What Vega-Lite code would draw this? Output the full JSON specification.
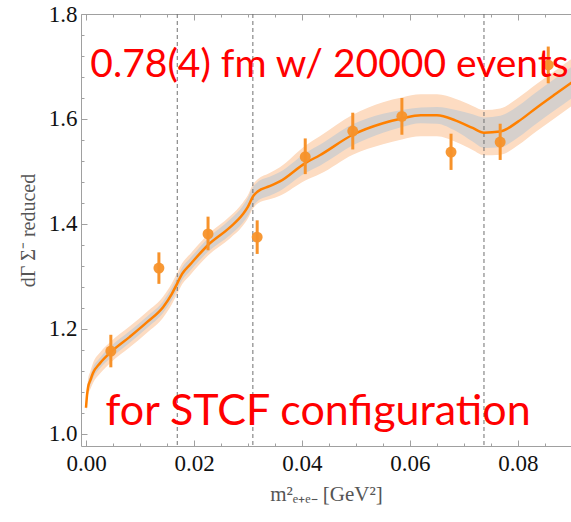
{
  "$schema": "https://vega.github.io/schema/vega-lite/v6.json",
  "autosize": {"type": "none"},
  "padding": {"left": 81, "top": 14, "right": 0, "bottom": 76},
  "width": 490,
  "height": 432,
  "background": "white",
  "view": {"stroke": null},
  "datasets": {
    "curve": [
      {"x": 0.0000, "y": 1.050, "glo": 1.046, "ghi": 1.054, "olo": 1.042, "ohi": 1.058},
      {"x": 0.0002, "y": 1.075, "glo": 1.069, "ghi": 1.081, "olo": 1.063, "ohi": 1.087},
      {"x": 0.0004, "y": 1.090, "glo": 1.082, "ghi": 1.098, "olo": 1.075, "ohi": 1.105},
      {"x": 0.0008, "y": 1.102, "glo": 1.093, "ghi": 1.111, "olo": 1.085, "ohi": 1.119},
      {"x": 0.0013, "y": 1.116, "glo": 1.106, "ghi": 1.126, "olo": 1.097, "ohi": 1.135},
      {"x": 0.0026, "y": 1.135, "glo": 1.125, "ghi": 1.145, "olo": 1.115, "ohi": 1.155},
      {"x": 0.0046, "y": 1.156, "glo": 1.145, "ghi": 1.167, "olo": 1.136, "ohi": 1.176},
      {"x": 0.0081, "y": 1.185, "glo": 1.174, "ghi": 1.196, "olo": 1.165, "ohi": 1.205},
      {"x": 0.0113, "y": 1.213, "glo": 1.202, "ghi": 1.224, "olo": 1.193, "ohi": 1.233},
      {"x": 0.0143, "y": 1.242, "glo": 1.231, "ghi": 1.253, "olo": 1.222, "ohi": 1.262},
      {"x": 0.0159, "y": 1.267, "glo": 1.255, "ghi": 1.279, "olo": 1.247, "ohi": 1.287},
      {"x": 0.0169, "y": 1.287, "glo": 1.275, "ghi": 1.299, "olo": 1.267, "ohi": 1.307},
      {"x": 0.0178, "y": 1.305, "glo": 1.293, "ghi": 1.317, "olo": 1.285, "ohi": 1.325},
      {"x": 0.0193, "y": 1.323, "glo": 1.311, "ghi": 1.335, "olo": 1.303, "ohi": 1.343},
      {"x": 0.0226, "y": 1.360, "glo": 1.347, "ghi": 1.373, "olo": 1.340, "ohi": 1.380},
      {"x": 0.0267, "y": 1.394, "glo": 1.379, "ghi": 1.409, "olo": 1.373, "ohi": 1.415},
      {"x": 0.0290, "y": 1.418, "glo": 1.402, "ghi": 1.434, "olo": 1.396, "ohi": 1.440},
      {"x": 0.0300, "y": 1.433, "glo": 1.416, "ghi": 1.450, "olo": 1.411, "ohi": 1.455},
      {"x": 0.0309, "y": 1.452, "glo": 1.434, "ghi": 1.470, "olo": 1.429, "ohi": 1.475},
      {"x": 0.0318, "y": 1.462, "glo": 1.444, "ghi": 1.480, "olo": 1.439, "ohi": 1.485},
      {"x": 0.0340, "y": 1.472, "glo": 1.454, "ghi": 1.490, "olo": 1.447, "ohi": 1.497},
      {"x": 0.0359, "y": 1.481, "glo": 1.463, "ghi": 1.499, "olo": 1.454, "ohi": 1.508},
      {"x": 0.0406, "y": 1.516, "glo": 1.497, "ghi": 1.535, "olo": 1.483, "ohi": 1.549},
      {"x": 0.0433, "y": 1.531, "glo": 1.511, "ghi": 1.551, "olo": 1.495, "ohi": 1.567},
      {"x": 0.0494, "y": 1.570, "glo": 1.550, "ghi": 1.590, "olo": 1.532, "ohi": 1.608},
      {"x": 0.0550, "y": 1.592, "glo": 1.574, "ghi": 1.610, "olo": 1.552, "ohi": 1.632},
      {"x": 0.0585, "y": 1.601, "glo": 1.585, "ghi": 1.617, "olo": 1.561, "ohi": 1.641},
      {"x": 0.0620, "y": 1.607, "glo": 1.592, "ghi": 1.622, "olo": 1.567, "ohi": 1.647},
      {"x": 0.0650, "y": 1.607, "glo": 1.591, "ghi": 1.623, "olo": 1.567, "ohi": 1.647},
      {"x": 0.0685, "y": 1.597, "glo": 1.577, "ghi": 1.617, "olo": 1.556, "ohi": 1.638},
      {"x": 0.0716, "y": 1.583, "glo": 1.557, "ghi": 1.609, "olo": 1.541, "ohi": 1.625},
      {"x": 0.0737, "y": 1.574, "glo": 1.545, "ghi": 1.603, "olo": 1.531, "ohi": 1.617},
      {"x": 0.0767, "y": 1.576, "glo": 1.546, "ghi": 1.606, "olo": 1.532, "ohi": 1.620},
      {"x": 0.0800, "y": 1.595, "glo": 1.565, "ghi": 1.625, "olo": 1.550, "ohi": 1.640},
      {"x": 0.0835, "y": 1.622, "glo": 1.592, "ghi": 1.652, "olo": 1.577, "ohi": 1.667},
      {"x": 0.0870, "y": 1.648, "glo": 1.618, "ghi": 1.678, "olo": 1.603, "ohi": 1.693},
      {"x": 0.0900, "y": 1.670, "glo": 1.640, "ghi": 1.700, "olo": 1.625, "ohi": 1.715}
    ],
    "points": [
      {"x": 0.0046, "y": 1.158, "lo": 1.127, "hi": 1.189},
      {"x": 0.0135, "y": 1.316, "lo": 1.286, "hi": 1.346},
      {"x": 0.0226, "y": 1.381, "lo": 1.350, "hi": 1.414},
      {"x": 0.0317, "y": 1.375, "lo": 1.343, "hi": 1.407},
      {"x": 0.0406, "y": 1.528, "lo": 1.495, "hi": 1.563},
      {"x": 0.0494, "y": 1.577, "lo": 1.542, "hi": 1.612},
      {"x": 0.0585, "y": 1.605, "lo": 1.570, "hi": 1.640},
      {"x": 0.0676, "y": 1.537, "lo": 1.503, "hi": 1.572},
      {"x": 0.0767, "y": 1.556, "lo": 1.522, "hi": 1.591},
      {"x": 0.0856, "y": 1.703, "lo": 1.668, "hi": 1.738}
    ],
    "thresholds": [{"x": 0.0169}, {"x": 0.0309}, {"x": 0.0737}],
    "label1": [{"x": 0.0008, "y": 1.68, "t": "0.78(4) fm w/ 20000 events"}],
    "label2": [{"x": 0.0036, "y": 1.017, "t": "for STCF configuration"}]
  },
  "resolve": {"axis": {"x": "independent", "y": "independent"}},
  "layer": [
    {
      "data": {"name": "curve"},
      "mark": {"type": "area", "color": "#FDDCC2", "interpolate": "monotone", "clip": true},
      "encoding": {
        "x": {
          "field": "x", "type": "quantitative",
          "scale": {"domain": [-0.000926, 0.089815], "nice": false, "zero": false},
          "axis": {
            "orient": "bottom",
            "values": [0, 0.02, 0.04, 0.06, 0.08],
            "format": ".2f",
            "tickSize": -6,
            "labelPadding": 12, "labelOverlap": false, "labelFlush": false,
            "labelFont": "Liberation Serif", "labelFontSize": 23, "labelColor": "#111",
            "domainColor": "#a0a0a0", "tickColor": "#a0a0a0", "grid": false,
            "title": "m²ₑ₊ₑ₋ [GeV²]", "titleFont": "Liberation Serif", "titleFontWeight": "normal",
            "titleFontSize": 21, "titleColor": "#555", "titlePadding": 8
          }
        },
        "y": {
          "field": "olo", "type": "quantitative",
          "scale": {"domain": [0.97714, 1.8], "nice": false, "zero": false},
          "axis": {
            "orient": "left",
            "values": [1.0, 1.2, 1.4, 1.6, 1.8],
            "format": ".1f",
            "tickSize": -6,
            "labelPadding": 10, "labelOverlap": false, "labelFlush": false,
            "labelFont": "Liberation Serif", "labelFontSize": 23, "labelColor": "#111",
            "domainColor": "#a0a0a0", "tickColor": "#a0a0a0", "grid": false,
            "title": "dΓ Σ⁻ reduced", "titleFont": "Liberation Serif", "titleFontWeight": "normal",
            "titleFontSize": 20, "titleColor": "#555", "titlePadding": 10
          }
        },
        "y2": {"field": "ohi"}
      }
    },
    {
      "data": {"name": "curve"},
      "mark": {"type": "area", "color": "#D6D0CC", "interpolate": "monotone", "clip": true},
      "encoding": {
        "x": {
          "field": "x", "type": "quantitative",
          "axis": {
            "orient": "bottom",
            "values": [0.005, 0.01, 0.015, 0.025, 0.03, 0.035, 0.045, 0.05, 0.055, 0.065, 0.07, 0.075, 0.085],
            "labels": false, "domain": false, "tickSize": -3,
            "tickColor": "#a0a0a0", "grid": false, "title": null
          }
        },
        "y": {
          "field": "glo", "type": "quantitative",
          "axis": {
            "orient": "left",
            "values": [1.04, 1.08, 1.12, 1.16, 1.24, 1.28, 1.32, 1.36, 1.44, 1.48, 1.52, 1.56, 1.64, 1.68, 1.72, 1.76],
            "labels": false, "domain": false, "tickSize": -3,
            "tickColor": "#a0a0a0", "grid": false, "title": null
          }
        },
        "y2": {"field": "ghi"}
      }
    },
    {
      "data": {"name": "thresholds"},
      "mark": {"type": "rule", "color": "#707070", "strokeDash": [4, 3], "strokeWidth": 1},
      "encoding": {
        "x": {
          "field": "x", "type": "quantitative",
          "axis": {
            "orient": "top",
            "values": [0, 0.02, 0.04, 0.06, 0.08],
            "labels": false, "tickSize": -6,
            "domainColor": "#a0a0a0", "tickColor": "#a0a0a0", "grid": false, "title": null
          }
        }
      }
    },
    {
      "data": {"name": "curve"},
      "mark": {"type": "line", "color": "#FF8000", "strokeWidth": 2.5, "interpolate": "monotone", "clip": true},
      "encoding": {
        "x": {
          "field": "x", "type": "quantitative",
          "axis": {
            "orient": "top",
            "values": [0.005, 0.01, 0.015, 0.025, 0.03, 0.035, 0.045, 0.05, 0.055, 0.065, 0.07, 0.075, 0.085],
            "labels": false, "domain": false, "tickSize": -3,
            "tickColor": "#a0a0a0", "grid": false, "title": null
          }
        },
        "y": {"field": "y", "type": "quantitative", "axis": null}
      }
    },
    {
      "data": {"name": "points"},
      "mark": {"type": "rule", "color": "#F7922A", "strokeWidth": 3, "clip": true},
      "encoding": {
        "x": {"field": "x", "type": "quantitative", "axis": null},
        "y": {"field": "lo", "type": "quantitative", "axis": null},
        "y2": {"field": "hi"}
      }
    },
    {
      "data": {"name": "points"},
      "mark": {"type": "circle", "color": "#F7922A", "opacity": 0.95, "size": 120, "clip": true},
      "encoding": {
        "x": {"field": "x", "type": "quantitative", "axis": null},
        "y": {"field": "y", "type": "quantitative", "axis": null}
      }
    },
    {
      "data": {"name": "label1"},
      "mark": {"type": "text", "color": "#FF0000", "font": "Lato", "fontSize": 39, "align": "left", "baseline": "alphabetic"},
      "encoding": {
        "x": {"field": "x", "type": "quantitative", "axis": null},
        "y": {"field": "y", "type": "quantitative", "axis": null},
        "text": {"field": "t"}
      }
    },
    {
      "data": {"name": "label2"},
      "mark": {"type": "text", "color": "#FF0000", "font": "Lato", "fontSize": 43, "align": "left", "baseline": "alphabetic"},
      "encoding": {
        "x": {"field": "x", "type": "quantitative", "axis": null},
        "y": {"field": "y", "type": "quantitative", "axis": null},
        "text": {"field": "t"}
      }
    }
  ]
}
